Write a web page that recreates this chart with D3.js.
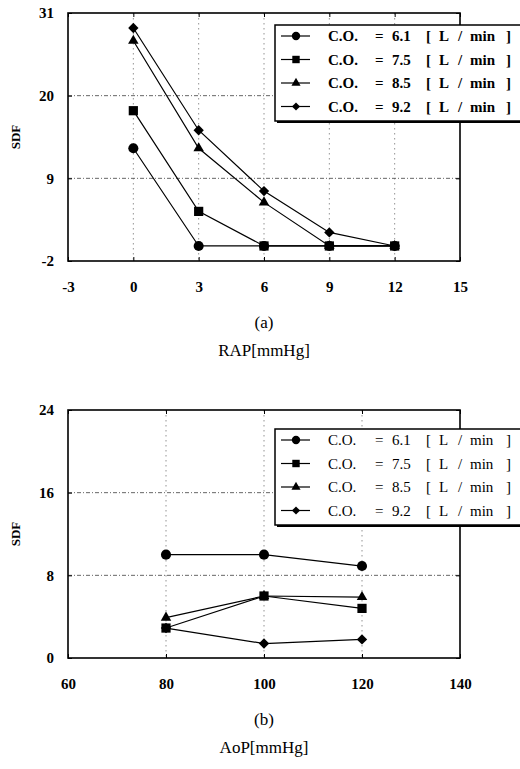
<!DOCTYPE html>
<html>
<head>
<meta charset="utf-8">
<script src="https://cdn.jsdelivr.net/npm/d3@7"></script>
<style>
	body { margin: 0; background: #fff; }
	svg { display: block; }
	.tick text { font: bold 15px "Liberation Serif", serif; fill: #000; }
	.domain { display: none; }
</style>
</head>
<body>
<svg id="chart" width="520" height="769"></svg>
<script>

// series labels (cardiac output)
var coLabels = ["6.1", "7.5", "8.5", "9.2"];
var markerTypes = [d3.symbolCircle, d3.symbolSquare, d3.symbolTriangle, d3.symbolDiamond2];

// panel (a): SDF vs RAP
var rapX = [0, 3, 6, 9, 12];
var rap61 = [13, 0, 0, 0, 0];
var rap75 = [18, 4.6, 0, 0, 0];
var rap85 = [27.3, 13, 5.8, 0, 0];
var rap92 = [29, 15.4, 7.3, 1.8, 0];
var rapXTicks = [-3, 0, 3, 6, 9, 12, 15];
var rapYTicks = [-2, 9, 20, 31];

// panel (b): SDF vs AoP
var aopX = [80, 100, 120];
var aop61 = [10, 10, 8.9];
var aop75 = [2.9, 6, 4.8];
var aop85 = [3.9, 6, 5.9];
var aop92 = [2.9, 1.4, 1.8];
var aopXTicks = [60, 80, 100, 120, 140];
var aopYTicks = [0, 8, 16, 24];

// plain hyphen for negatives, as in the scan
var fmt = function(d) { return d < 0 ? "-" + Math.abs(d) : String(d); };

class SdfPanel{
	constructor(svg, top){
		this.svg = svg;
		this.top = top;
	}

	draw(xs, series, xTicks, yTicks, caption, xLabel, legendBold, legendTop){
		var margin = {left: 68, top: this.top},
			width = 392,
			height = 248;

		var g = this.svg.append("g").attr("transform", "translate(" + margin.left + "," + margin.top + ")");

		var x = d3.scaleLinear().domain([xTicks[0], xTicks[xTicks.length - 1]]).range([0, width]),
			y = d3.scaleLinear().domain([yTicks[0], yTicks[yTicks.length - 1]]).range([height, 0]);

		// dotted grid at the inner ticks
		g.selectAll(".vgrid")
			.data(xTicks.slice(1, -1))
			.enter().append("line")
			.attr("x1", function(d) { return x(d); })
			.attr("x2", function(d) { return x(d); })
			.attr("y1", 0).attr("y2", height)
			.attr("stroke", "#777").attr("stroke-width", 0.8)
			.attr("stroke-dasharray", "1.5,3.5");

		g.selectAll(".hgrid")
			.data(yTicks.slice(1, -1))
			.enter().append("line")
			.attr("x1", 0).attr("x2", width)
			.attr("y1", function(d) { return y(d); })
			.attr("y2", function(d) { return y(d); })
			.attr("stroke", "#555").attr("stroke-width", 0.9)
			.attr("stroke-dasharray", "4,2,1,2");

		// axes with inward ticks
		g.append("g")
			.attr("transform", "translate(0," + height + ")")
			.call(d3.axisBottom(x).tickValues(xTicks).tickSizeInner(-4).tickSizeOuter(0).tickPadding(20).tickFormat(fmt))
			.selectAll("line").attr("stroke", "#000");

		g.append("g")
			.call(d3.axisLeft(y).tickValues(yTicks).tickSizeInner(-4).tickSizeOuter(0).tickPadding(14).tickFormat(fmt))
			.selectAll("line").attr("stroke", "#000");

		g.append("g")
			.call(d3.axisTop(x).tickValues(xTicks).tickSizeInner(-4).tickSizeOuter(0).tickFormat(""))
			.selectAll("line").attr("stroke", "#000");

		g.append("g")
			.attr("transform", "translate(" + width + ",0)")
			.call(d3.axisRight(y).tickValues(yTicks).tickSizeInner(-4).tickSizeOuter(0).tickFormat(""))
			.selectAll("line").attr("stroke", "#000");

		g.append("rect")
			.attr("width", width).attr("height", height)
			.attr("fill", "none").attr("stroke", "#000").attr("stroke-width", 1.6);

		g.append("text")
			.attr("transform", "translate(-48," + (height / 2) + ") rotate(-90)")
			.attr("text-anchor", "middle")
			.style("font", "bold 13px 'Liberation Serif', serif")
			.text("SDF");

		// lines + markers
		var line = d3.line()
			.x(function(d) { return x(d.x); })
			.y(function(d) { return y(d.v); });

		var rows = series.map(function(vals, i){
			return {id: i, values: vals.map(function(v, j){ return {x: xs[j], v: v}; })};
		});

		var s = g.selectAll(".series")
			.data(rows)
			.enter().append("g")
			.attr("class", "series");

		s.append("path")
			.attr("d", function(d) { return line(d.values); })
			.attr("fill", "none").attr("stroke", "#000").attr("stroke-width", 1.2);

		var sizes = [80, 85, 48, 68];
		s.selectAll("path.pt")
			.data(function(d) { return d.values.map(function(p){ return {p: p, id: d.id}; }); })
			.enter().append("path")
			.attr("class", "pt")
			.attr("transform", function(d) { return "translate(" + x(d.p.x) + "," + y(d.p.v) + ")"; })
			.attr("d", function(d) { return d3.symbol().type(markerTypes[d.id]).size(sizes[d.id])(); })
			.attr("fill", "#000");

		// legend box
		var lg = g.append("g").attr("transform", "translate(207," + legendTop + ")");
		lg.append("rect")
			.attr("x", 2).attr("y", 2).attr("width", 260).attr("height", 96)
			.attr("fill", "#000");
		lg.append("rect")
			.attr("width", 260).attr("height", 96)
			.attr("fill", "#fff").attr("stroke", "#000").attr("stroke-width", 1.5);

		var item = lg.selectAll(".item")
			.data(coLabels)
			.enter().append("g")
			.attr("transform", function(d, i) { return "translate(0," + (11 + i * 23.5) + ")"; });

		item.append("line")
			.attr("x1", 6).attr("x2", 35)
			.attr("stroke", "#000").attr("stroke-width", 1.2);
		var lsizes = [55, 55, 36, 42];
		item.append("path")
			.attr("transform", "translate(21,0)")
			.attr("d", function(d, i) { return d3.symbol().type(markerTypes[i]).size(lsizes[i])(); })
			.attr("fill", "#000");

		var fnt = (legendBold ? "bold " : "") + "15px 'Liberation Serif', serif";
		var parts = [
			{x: 53, t: function() { return "C.O."; }},
			{x: 100, t: function() { return "="; }},
			{x: 117, t: function(d) { return d; }},
			{x: 151, t: function() { return "["; }},
			{x: 164, t: function() { return "L"; }},
			{x: 183, t: function() { return "/"; }},
			{x: 195, t: function() { return "min"; }},
			{x: 231, t: function() { return "]"; }}
		];
		parts.forEach(function(p){
			item.append("text")
				.attr("x", p.x).attr("dy", "0.35em")
				.style("font", fnt)
				.text(p.t);
		});

		// captions under the panel
		this.svg.append("text")
			.attr("x", 264).attr("y", margin.top + height + 67)
			.attr("text-anchor", "middle")
			.style("font", "17px 'Liberation Serif', serif")
			.text(caption);
		this.svg.append("text")
			.attr("x", 264).attr("y", margin.top + height + 95)
			.attr("text-anchor", "middle")
			.style("font", "17px 'Liberation Serif', serif")
			.text(xLabel);
	}
}

var svg = d3.select("#chart");

new SdfPanel(svg, 13).draw(rapX, [rap61, rap75, rap85, rap92], rapXTicks, rapYTicks, "(a)", "RAP[mmHg]", true, 12);
new SdfPanel(svg, 410).draw(aopX, [aop61, aop75, aop85, aop92], aopXTicks, aopYTicks, "(b)", "AoP[mmHg]", false, 19);

</script>
</body>
</html>
